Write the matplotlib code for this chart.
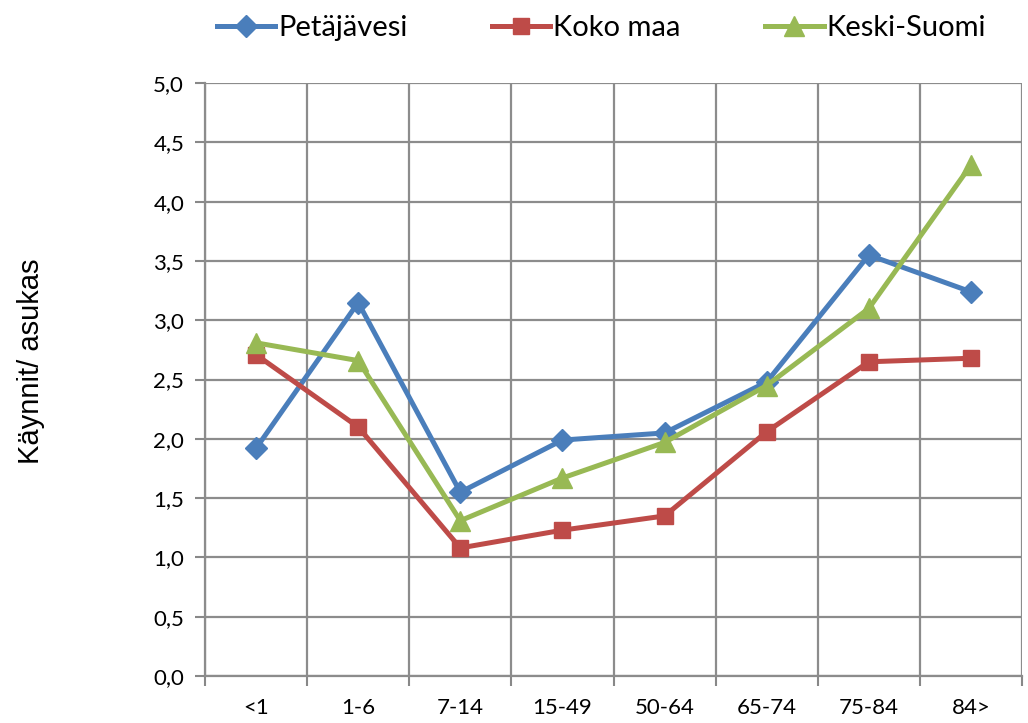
import matplotlib.pyplot as plt
from matplotlib.ticker import FuncFormatter

categories = ['<1', '1-6', '7-14', '15-49', '50-64', '65-74', '75-84', '84>']
petajavesi = [1.92, 3.15, 1.55, 1.99, 2.05, 2.48, 3.55, 3.24]
koko_maa = [2.71, 2.10, 1.08, 1.23, 1.35, 2.06, 2.65, 2.68]
keski_suomi = [2.81, 2.66, 1.31, 1.67, 1.97, 2.45, 3.10, 4.31]

fig = plt.figure(figsize=(10.28, 7.23), dpi=100)
ax = fig.add_axes([0.1994, 0.065, 0.7948, 0.820])

x = list(range(len(categories)))
ax.plot(x, petajavesi, color='#4a7ebb', lw=3.6, marker='D', ms=11, label='Petäjävesi')
ax.plot(x, koko_maa, color='#be4b48', lw=3.6, marker='s', ms=12, label='Koko maa')
ax.plot(x, keski_suomi, color='#98b954', lw=3.6, marker='^', ms=14, label='Keski-Suomi')

ax.set_xlim(-0.5, len(categories) - 0.5)
ax.set_ylim(0, 5)
ax.set_yticks([i * 0.5 for i in range(11)])
ax.yaxis.set_major_formatter(FuncFormatter(lambda v, p: f'{v:.1f}'.replace('.', ',')))
ax.set_xticks(x)
ax.set_xticklabels(categories)
ax.set_xticks([i - 0.5 for i in range(len(categories) + 1)], minor=True)
ax.tick_params(axis='x', which='major', length=0, pad=16)
ax.tick_params(axis='x', which='minor', length=7, width=1.5, color='#888888', direction='out')
ax.tick_params(axis='y', length=7, width=1.5, color='#888888', pad=8)
for lab in ax.get_xticklabels() + ax.get_yticklabels():
    lab.set_fontfamily('Lato')
    lab.set_fontsize(16)

ax.grid(True, which='major', axis='y', color='#8c8c8c', lw=1.6)
ax.grid(True, which='minor', axis='x', color='#8c8c8c', lw=1.6)
ax.set_axisbelow(True)
for s in ['top', 'right']:
    ax.spines[s].set_visible(False)
for s in ['left', 'bottom']:
    ax.spines[s].set_color('#8c8c8c')
    ax.spines[s].set_linewidth(1.6)

fig.text(0.03, 0.5, 'Käynnit/ asukas', rotation=90, va='center', ha='center',
         fontsize=21, fontfamily='Liberation Sans')

fig.legend(loc='upper center', bbox_to_anchor=(0.585, 1.015), ncol=3, frameon=False,
           prop={'family': 'Lato', 'size': 21}, handlelength=2.0, columnspacing=2.9,
           handletextpad=0.1)

fig.savefig('out.png', dpi=100)
